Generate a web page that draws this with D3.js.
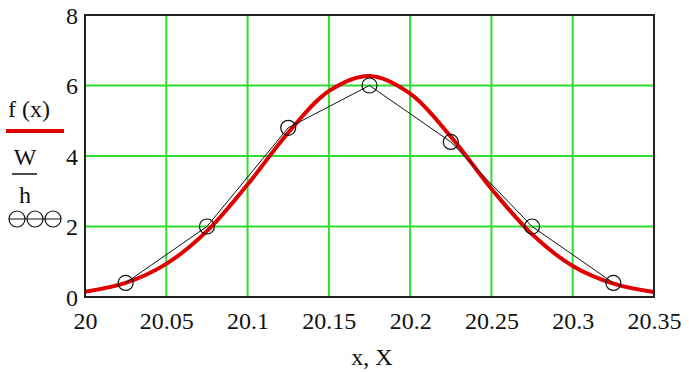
<!DOCTYPE html>
<html>
<head>
<meta charset="utf-8">
<script src="https://cdn.jsdelivr.net/npm/d3@7"></script>
</head>
<body style="margin:0;background:#fff">
<svg id="chart" width="689" height="372" style="display:block"></svg>
<script>
// ---- data ----
const xTickValues = [20, 20.05, 20.1, 20.15, 20.2, 20.25, 20.3, 20.35];
const xTickLabels = ["20", "20.05", "20.1", "20.15", "20.2", "20.25", "20.3", "20.35"];
const yTickValues = [0, 2, 4, 6, 8];
const yTickLabels = ["0", "2", "4", "6", "8"];

// histogram points W/h vs X
const histX = [20.025, 20.075, 20.125, 20.175, 20.225, 20.275, 20.325];
const histY = [0.4, 2.0, 4.8, 6.0, 4.4, 2.0, 0.4];

// f(x) curve
const curveX = [20.0, 20.025, 20.05, 20.075, 20.1, 20.125, 20.15, 20.175, 20.2, 20.225, 20.25, 20.275, 20.3, 20.325, 20.35];
const curveY = [0.15, 0.40, 0.94, 1.87, 3.19, 4.66, 5.84, 6.27, 5.77, 4.55, 3.07, 1.78, 0.88, 0.38, 0.14];

const legendLabels = ["f (x)", "W", "h"];
const axisTitle = "x, X";

// ---- layout ----
const FONT = "'Liberation Serif'";
const svg = d3.select("#chart");
const L = 85, R = 654, T = 15, B = 297;
const x = d3.scaleLinear().domain([20, 20.35]).range([L, R]);
const y = d3.scaleLinear().domain([0, 8]).range([B, T]);

const gridColor = "#2fdc2f";

// grid lines
const grid = svg.append("g");
grid.selectAll("line.vx").data(xTickValues.slice(1, -1)).join("line")
  .attr("x1", d => x(d)).attr("x2", d => x(d))
  .attr("y1", T).attr("y2", B)
  .attr("stroke", gridColor).attr("stroke-width", 2);
grid.selectAll("line.hy").data(yTickValues.slice(1, -1)).join("line")
  .attr("x1", L).attr("x2", R)
  .attr("y1", d => y(d)).attr("y2", d => y(d))
  .attr("stroke", gridColor).attr("stroke-width", 2);

// axes with d3 (labels only, no tick marks)
const xAxis = d3.axisBottom(x).tickValues(xTickValues)
  .tickFormat((d, i) => xTickLabels[i]).tickSize(0).tickPadding(0);
const gx = svg.append("g").attr("transform", `translate(0,${B})`).call(xAxis)
  .attr("font-family", FONT).attr("font-size", 24);
gx.select(".domain").remove();
gx.selectAll("text").attr("font-family", FONT).attr("font-size", 24)
  .attr("fill", "#111").attr("dy", null).attr("y", 32);

const yAxis = d3.axisLeft(y).tickValues(yTickValues)
  .tickFormat((d, i) => yTickLabels[i]).tickSize(0).tickPadding(0);
const gy = svg.append("g").attr("transform", `translate(${L},0)`).call(yAxis)
  .attr("font-family", FONT).attr("font-size", 24);
gy.select(".domain").remove();
gy.selectAll("text").attr("font-family", FONT).attr("font-size", 24)
  .attr("fill", "#111").attr("x", -7).attr("dy", "0.34em");

// f(x) curve
const curveData = curveX.map((d, i) => [d, curveY[i]]);
svg.append("clipPath").attr("id", "plotclip")
  .append("rect").attr("x", L).attr("y", T).attr("width", R - L).attr("height", B - T);
svg.append("path")
  .datum(curveData)
  .attr("clip-path", "url(#plotclip)")
  .attr("d", d3.line().x(d => x(d[0])).y(d => y(d[1])).curve(d3.curveCatmullRom.alpha(0.5)))
  .attr("fill", "none").attr("stroke", "#e00000").attr("stroke-width", 4)
  .attr("stroke-linejoin", "round");

// histogram polyline + circles
const histData = histX.map((d, i) => [d, histY[i]]);
svg.append("path")
  .datum(histData)
  .attr("d", d3.line().x(d => x(d[0])).y(d => y(d[1])))
  .attr("fill", "none").attr("stroke", "#111").attr("stroke-width", 1);
svg.selectAll("circle.pt").data(histData).join("circle")
  .attr("class", "pt")
  .attr("cx", d => x(d[0])).attr("cy", d => y(d[1])).attr("r", 7.5)
  .attr("fill", "none").attr("stroke", "#111").attr("stroke-width", 1.2);

// frame
svg.append("rect").attr("x", L).attr("y", T).attr("width", R - L).attr("height", B - T)
  .attr("fill", "none").attr("stroke", "#222").attr("stroke-width", 2);

// legend
const lg = svg.append("g");
lg.append("text").attr("x", 8).attr("y", 117).attr("font-size", 24)
  .attr("font-family", FONT).attr("fill", "#111").text(legendLabels[0]);
lg.append("line").attr("x1", 6).attr("x2", 64).attr("y1", 131).attr("y2", 131)
  .attr("stroke", "#e00000").attr("stroke-width", 4);
lg.append("text").attr("x", 25).attr("y", 165).attr("font-size", 24)
  .attr("font-family", FONT).attr("fill", "#111").attr("text-anchor", "middle").text(legendLabels[1]);
lg.append("line").attr("x1", 12).attr("x2", 37).attr("y1", 174).attr("y2", 174)
  .attr("stroke", "#111").attr("stroke-width", 1.5);
lg.append("text").attr("x", 25).attr("y", 203).attr("font-size", 24)
  .attr("font-family", FONT).attr("fill", "#111").attr("text-anchor", "middle").text(legendLabels[2]);
const legCircles = [17, 35, 53];
lg.append("line").attr("x1", 9).attr("x2", 61).attr("y1", 219).attr("y2", 219)
  .attr("stroke", "#111").attr("stroke-width", 1);
lg.selectAll("circle").data(legCircles).join("circle")
  .attr("cx", d => d).attr("cy", 219).attr("r", 8)
  .attr("fill", "none").attr("stroke", "#111").attr("stroke-width", 1.2);

// axis title
svg.append("text").attr("x", 372).attr("y", 365).attr("font-size", 24)
  .attr("font-family", FONT).attr("fill", "#111").attr("text-anchor", "middle").text(axisTitle);
</script>
</body>
</html>
